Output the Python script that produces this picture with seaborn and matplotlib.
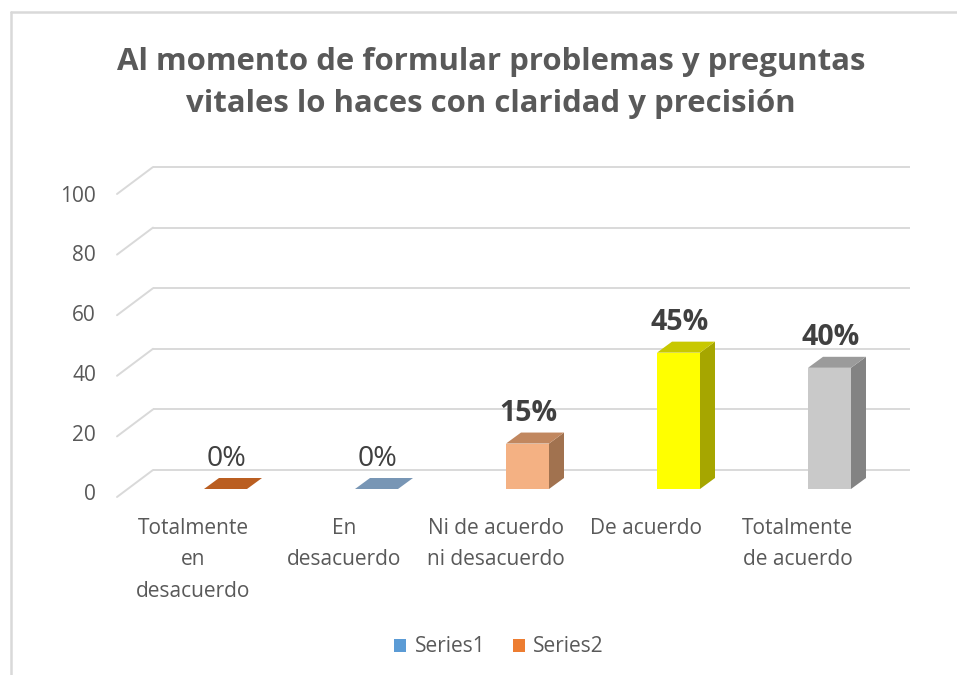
import numpy as np
import matplotlib
matplotlib.use("Agg")
import matplotlib.pyplot as plt
import seaborn as sns
from matplotlib.patches import Polygon, Patch
from matplotlib.lines import Line2D

sns.set_style("white")
plt.rcParams['font.family'] = ['Open Sans', 'DejaVu Sans']

# --- data ---
categories = ["Totalmente en desacuerdo", "En desacuerdo", "Ni de acuerdo ni desacuerdo",
              "De acuerdo", "Totalmente de acuerdo"]
tick_labels = ["Totalmente\nen\ndesacuerdo", "En\ndesacuerdo", "Ni de acuerdo\nni desacuerdo",
               "De acuerdo", "Totalmente\nde acuerdo"]
values = [0, 0, 15, 45, 40]
value_labels = ["0%", "0%", "15%", "45%", "40%"]
y_ticks = [0, 20, 40, 60, 80, 100]
legend_names = ["Series1", "Series2"]

# --- colours (front, side, top) ---
front_colors = ["#C46A2C", "#86A6C8", "#F4B183", "#FFFF00", "#C9C9C9"]
side_colors = ["#8E4A1C", "#5E7896", "#A1724F", "#A6A600", "#838383"]
top_colors = ["#BA5E21", "#7896B5", "#C1875F", "#C8C800", "#9B9B9B"]
legend_colors = ["#5B9BD5", "#ED7D31"]
grid_col = "#D9D9D9"
text_col = "#595959"

W, H = 957, 675
fig = plt.figure(figsize=(W / 100, H / 100), dpi=100)

# pixel mapping of bar plane: px = 225.5 + 151*x ; py = 489 - 3.03*v
PX0, PXS = 225.5, 151.0
PY0, PYS = 489.0, 3.03
left_px, right_px = 100, 920
bot_px, top_px = 510, 150
ax = fig.add_axes([left_px / W, 1 - bot_px / H, (right_px - left_px) / W, (bot_px - top_px) / H])


def dx(px):
    return (px - PX0) / PXS


# bars (front faces)
bw = 43 / PXS
sns.barplot(x=categories, y=values, hue=categories, palette=front_colors, width=bw,
            legend=False, ax=ax, zorder=3, saturation=1, linewidth=0)
ax.set_xlim((left_px - PX0) / PXS, (right_px - PX0) / PXS)
ax.set_ylim((PY0 - bot_px) / PYS, (PY0 - top_px) / PYS)
ax.axis("off")

# back wall gridlines and floor diagonals
back_dy = 19 / PYS
front_dy = -8 / PYS
for v in y_ticks:
    ax.plot([dx(153), dx(910)], [v + back_dy, v + back_dy], color=grid_col, lw=1.4, zorder=1,
            clip_on=False, solid_capstyle="butt")
    ax.plot([dx(117), dx(153)], [v + front_dy, v + back_dy], color=grid_col, lw=1.4, zorder=1,
            clip_on=False)
    ax.text(dx(96), (PY0 - (495 - 2.99 * v)) / PYS, str(v), ha="right", va="center",
            fontsize=15, color=text_col)

ddx = 15 / PXS
ddy = 11 / PYS
for i, v in enumerate(values):
    xl, xr = i - bw / 2, i + bw / 2
    if v > 0:
        side = Polygon([(xr, 0), (xr + ddx, ddy), (xr + ddx, v + ddy), (xr, v)],
                       closed=True, fc=side_colors[i], ec="none", zorder=3)
        ax.add_patch(side)
    top = Polygon([(xl, v), (xr, v), (xr + ddx, v + ddy), (xl + ddx, v + ddy)],
                  closed=True, fc=top_colors[i], ec="none", zorder=3)
    ax.add_patch(top)
    ax.text(i + 0.005, v + 10.0, value_labels[i], ha="center", va="center", fontsize=20.5,
            fontweight="bold" if v > 0 else "normal", color="#404040", zorder=4)

# category labels (front plane, shifted left)
for i, lab in enumerate(tick_labels):
    ax.text(i - 32 / PXS, (PY0 - 518) / PYS, lab, ha="center", va="top", fontsize=15,
            color=text_col, linespacing=1.65)

# title
fig.text(491 / W, 1 - 83 / H, "Al momento de formular problemas y preguntas\nvitales lo haces con claridad y precisión",
         ha="center", va="center", fontsize=22.4, fontweight="bold", color=text_col, linespacing=1.55)

# legend
handles = [Patch(fc=c, ec="none") for c in legend_colors]
fig.legend(handles, legend_names, loc="center", bbox_to_anchor=(499 / W, 1 - 647 / H), ncol=2,
           frameon=False, fontsize=15, labelcolor=text_col, handlelength=0.6, handleheight=0.6,
           handletextpad=0.4, columnspacing=1.3)

# chart-area border
fig.add_artist(Line2D([11 / W, 11 / W], [0, 1 - 12 / H], color=grid_col, lw=1.8))
fig.add_artist(Line2D([11 / W, 1], [1 - 12 / H, 1 - 12 / H], color=grid_col, lw=1.8))

fig.savefig("out.png", dpi=100, facecolor="white")
